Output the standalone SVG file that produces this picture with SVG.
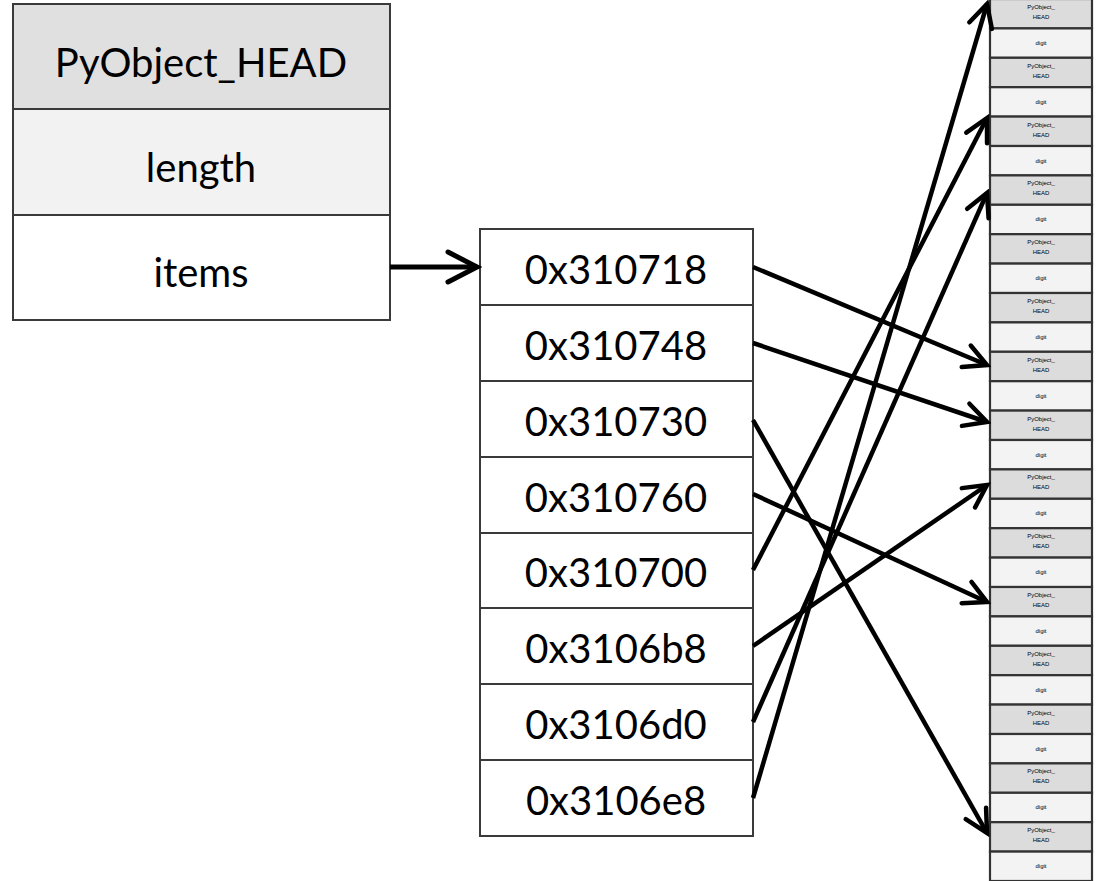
<svg xmlns="http://www.w3.org/2000/svg" width="1100" height="881" viewBox="0 0 1100 881">
  <style>
    .lbl { font-family: Lato, "Liberation Sans", sans-serif; font-size: 40px; fill: #000; text-anchor: middle; }
    .box { stroke: #3a3a3a; stroke-width: 2; }
    .hd { fill: #e0e0e0; }
    .ln { fill: #f2f2f2; }
    .wh { fill: #ffffff; }
    .cg { fill: #dcdcdc; stroke: #333; stroke-width: 2.2; }
    .cl { fill: #f3f3f3; stroke: #333; stroke-width: 2.2; }
    .tiny { font-family: "Liberation Sans", sans-serif; font-size: 6px; fill: #000; text-anchor: middle; }
    .link { fill: none; stroke: #000; stroke-width: 4.5; marker-end: url(#arrow); }
    .main { fill: none; stroke: #000; stroke-width: 5; marker-end: url(#arrow-big); }
  </style>
  <defs>
    <marker id="arrow" viewBox="-7 -4 8 8" refX="0" refY="0" markerWidth="8" markerHeight="8" orient="auto" markerUnits="strokeWidth">
      <path d="M-5,-2.6 L0,0 L-5,2.6" fill="none" stroke="#000" stroke-width="1" stroke-linecap="round"/>
    </marker>
    <marker id="arrow-big" viewBox="-7 -4 8 8" refX="0" refY="0" markerWidth="8" markerHeight="8" orient="auto" markerUnits="strokeWidth">
      <path d="M-5.8,-3 L0,0 L-5.8,3" fill="none" stroke="#000" stroke-width="1" stroke-linecap="round"/>
    </marker>
  </defs>

  <rect width="1100" height="881" fill="#ffffff"/>

  <!-- list object header -->
  <g id="list-object">
    <rect class="box hd" x="13" y="4" width="377" height="105"/>
    <text class="lbl" x="201" y="77">PyObject_HEAD</text>
    <rect class="box ln" x="13" y="109" width="377" height="106"/>
    <text class="lbl" x="201" y="182">length</text>
    <rect class="box wh" x="13" y="215" width="377" height="105"/>
    <text class="lbl" x="201" y="287">items</text>
  </g>

  <!-- pointer array -->
  <g id="items-array">
    <rect class="box wh" x="480" y="229" width="273" height="76"/>
    <text class="lbl" x="616" y="284">0x310718</text>
    <rect class="box wh" x="480" y="305" width="273" height="76"/>
    <text class="lbl" x="616" y="360">0x310748</text>
    <rect class="box wh" x="480" y="381" width="273" height="76"/>
    <text class="lbl" x="616" y="436">0x310730</text>
    <rect class="box wh" x="480" y="457" width="273" height="76"/>
    <text class="lbl" x="616" y="512">0x310760</text>
    <rect class="box wh" x="480" y="533" width="273" height="75"/>
    <text class="lbl" x="616" y="587">0x310700</text>
    <rect class="box wh" x="480" y="608" width="273" height="76"/>
    <text class="lbl" x="616" y="663">0x3106b8</text>
    <rect class="box wh" x="480" y="684" width="273" height="76"/>
    <text class="lbl" x="616" y="739">0x3106d0</text>
    <rect class="box wh" x="480" y="760" width="273" height="76"/>
    <text class="lbl" x="616" y="815">0x3106e8</text>
  </g>

  <!-- heap of small int objects -->
  <g id="heap">
    <g id="obj0"><rect class="cg" x="990" y="-1" width="102" height="29.4"/><text class="tiny" x="1041" y="9">PyObject_</text><text class="tiny" x="1041" y="19">HEAD</text><rect class="cl" x="990" y="28.4" width="102" height="29.4"/><text class="tiny" x="1041" y="45">digit</text></g>
    <g id="obj1"><rect class="cg" x="990" y="57.8" width="102" height="29.4"/><text class="tiny" x="1041" y="67.8">PyObject_</text><text class="tiny" x="1041" y="77.8">HEAD</text><rect class="cl" x="990" y="87.2" width="102" height="29.4"/><text class="tiny" x="1041" y="103.8">digit</text></g>
    <g id="obj2"><rect class="cg" x="990" y="116.6" width="102" height="29.4"/><text class="tiny" x="1041" y="126.6">PyObject_</text><text class="tiny" x="1041" y="136.6">HEAD</text><rect class="cl" x="990" y="146" width="102" height="29.4"/><text class="tiny" x="1041" y="162.6">digit</text></g>
    <g id="obj3"><rect class="cg" x="990" y="175.4" width="102" height="29.4"/><text class="tiny" x="1041" y="185.4">PyObject_</text><text class="tiny" x="1041" y="195.4">HEAD</text><rect class="cl" x="990" y="204.8" width="102" height="29.4"/><text class="tiny" x="1041" y="221.4">digit</text></g>
    <g id="obj4"><rect class="cg" x="990" y="234.2" width="102" height="29.4"/><text class="tiny" x="1041" y="244.2">PyObject_</text><text class="tiny" x="1041" y="254.2">HEAD</text><rect class="cl" x="990" y="263.6" width="102" height="29.4"/><text class="tiny" x="1041" y="280.2">digit</text></g>
    <g id="obj5"><rect class="cg" x="990" y="293" width="102" height="29.4"/><text class="tiny" x="1041" y="303">PyObject_</text><text class="tiny" x="1041" y="313">HEAD</text><rect class="cl" x="990" y="322.4" width="102" height="29.4"/><text class="tiny" x="1041" y="339">digit</text></g>
    <g id="obj6"><rect class="cg" x="990" y="351.8" width="102" height="29.4"/><text class="tiny" x="1041" y="361.8">PyObject_</text><text class="tiny" x="1041" y="371.8">HEAD</text><rect class="cl" x="990" y="381.2" width="102" height="29.4"/><text class="tiny" x="1041" y="397.8">digit</text></g>
    <g id="obj7"><rect class="cg" x="990" y="410.6" width="102" height="29.4"/><text class="tiny" x="1041" y="420.6">PyObject_</text><text class="tiny" x="1041" y="430.6">HEAD</text><rect class="cl" x="990" y="440" width="102" height="29.4"/><text class="tiny" x="1041" y="456.6">digit</text></g>
    <g id="obj8"><rect class="cg" x="990" y="469.4" width="102" height="29.4"/><text class="tiny" x="1041" y="479.4">PyObject_</text><text class="tiny" x="1041" y="489.4">HEAD</text><rect class="cl" x="990" y="498.8" width="102" height="29.4"/><text class="tiny" x="1041" y="515.4">digit</text></g>
    <g id="obj9"><rect class="cg" x="990" y="528.2" width="102" height="29.4"/><text class="tiny" x="1041" y="538.2">PyObject_</text><text class="tiny" x="1041" y="548.2">HEAD</text><rect class="cl" x="990" y="557.6" width="102" height="29.4"/><text class="tiny" x="1041" y="574.2">digit</text></g>
    <g id="obj10"><rect class="cg" x="990" y="587" width="102" height="29.4"/><text class="tiny" x="1041" y="597">PyObject_</text><text class="tiny" x="1041" y="607">HEAD</text><rect class="cl" x="990" y="616.4" width="102" height="29.4"/><text class="tiny" x="1041" y="633">digit</text></g>
    <g id="obj11"><rect class="cg" x="990" y="645.8" width="102" height="29.4"/><text class="tiny" x="1041" y="655.8">PyObject_</text><text class="tiny" x="1041" y="665.8">HEAD</text><rect class="cl" x="990" y="675.2" width="102" height="29.4"/><text class="tiny" x="1041" y="691.8">digit</text></g>
    <g id="obj12"><rect class="cg" x="990" y="704.6" width="102" height="29.4"/><text class="tiny" x="1041" y="714.6">PyObject_</text><text class="tiny" x="1041" y="724.6">HEAD</text><rect class="cl" x="990" y="734" width="102" height="29.4"/><text class="tiny" x="1041" y="750.6">digit</text></g>
    <g id="obj13"><rect class="cg" x="990" y="763.4" width="102" height="29.4"/><text class="tiny" x="1041" y="773.4">PyObject_</text><text class="tiny" x="1041" y="783.4">HEAD</text><rect class="cl" x="990" y="792.8" width="102" height="29.4"/><text class="tiny" x="1041" y="809.4">digit</text></g>
    <g id="obj14"><rect class="cg" x="990" y="822.2" width="102" height="29.4"/><text class="tiny" x="1041" y="832.2">PyObject_</text><text class="tiny" x="1041" y="842.2">HEAD</text><rect class="cl" x="990" y="851.6" width="102" height="29.4"/><text class="tiny" x="1041" y="868.2">digit</text></g>
  </g>

  <!-- pointers -->
  <g id="connectors">
    <line class="main" x1="390" y1="267" x2="477" y2="267"/>
    <line class="link" x1="753" y1="267" x2="987" y2="365"/>
    <line class="link" x1="753" y1="343" x2="987" y2="422"/>
    <line class="link" x1="753" y1="420" x2="987" y2="833"/>
    <line class="link" x1="753" y1="494" x2="987" y2="602"/>
    <line class="link" x1="753" y1="570" x2="987" y2="118"/>
    <line class="link" x1="753" y1="646" x2="987" y2="485"/>
    <line class="link" x1="753" y1="722" x2="987" y2="193"/>
    <line class="link" x1="753" y1="798" x2="987" y2="4"/>
  </g>
</svg>
